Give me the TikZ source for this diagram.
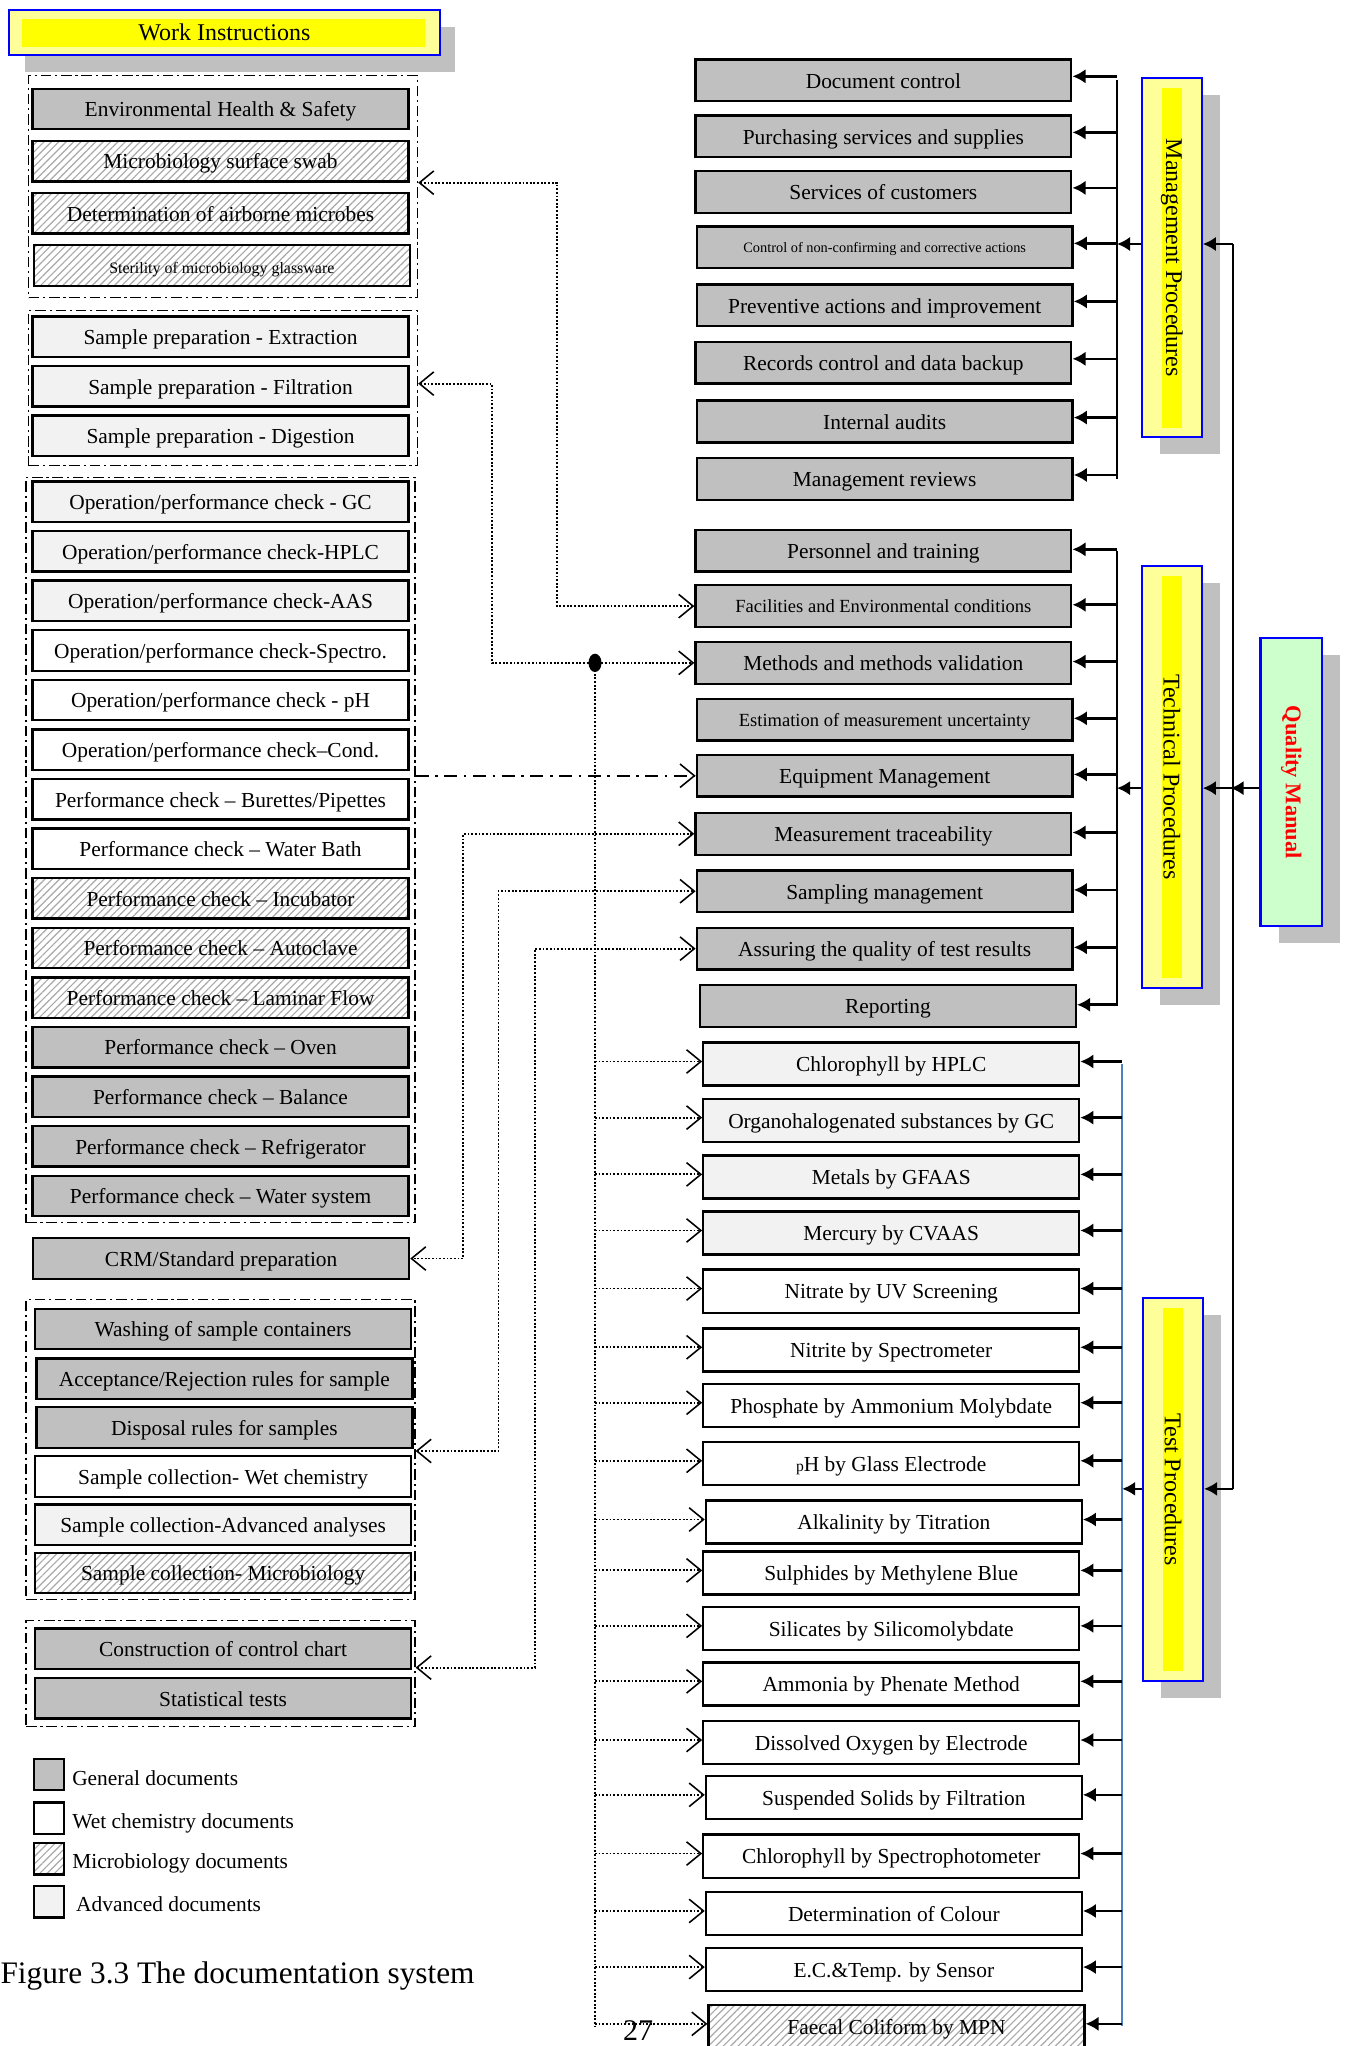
\documentclass[tikz,border=0pt]{standalone}
\usepackage{fontspec}
\setmainfont{Liberation Serif}
\usetikzlibrary{arrows.meta,patterns.meta,shapes.geometric,shadows,calc}
\definecolor{silv}{HTML}{C0C0C0}
\definecolor{advg}{HTML}{F2F2F2}
\definecolor{lyel}{HTML}{FFFF99}
\definecolor{yel}{HTML}{FFFF00}
\definecolor{pblue}{HTML}{0000FF}
\definecolor{qmg}{HTML}{CCFFCC}
\definecolor{qmr}{HTML}{FF0000}
\definecolor{bbus}{HTML}{4F81BD}
\definecolor{hatchc}{HTML}{A8A8A8}
\newcommand\bxf{\fontsize{8.2}{9}\selectfont}
\newcommand\smf{\fontsize{7.1}{8}\selectfont}
\newcommand\tnf{\fontsize{6.1}{7}\selectfont}
\newcommand\ctf{\fontsize{5.5}{6}\selectfont}
\newcommand\prf{\fontsize{9.2}{10}\selectfont}
\newcommand\qmf{\bfseries\fontsize{8.6}{10}\selectfont}
\newcommand\capf{\fontsize{12}{14}\selectfont}
\newcommand\pgf{\fontsize{11.5}{13}\selectfont}
\tikzset{
 docbox/.style={draw=black, line width=0.9pt, minimum width=144pt, minimum height=15.5pt, inner sep=0pt, font=\bxf, text height=6pt, text depth=0pt},
 gen/.style={docbox, fill=silv},
 wet/.style={docbox, fill=white},
 adv/.style={docbox, fill=advg},
 mic/.style={docbox, preaction={fill=white}, pattern={Lines[angle=45,distance=2pt,line width=0.45pt]}, pattern color=hatchc},
 rbox/.style={minimum height=16pt},
 tbox/.style={minimum height=16.5pt},
 grp/.style={draw=black, line width=0.5pt, dash pattern=on 4pt off 1.5pt on 0.8pt off 1.5pt, inner sep=0pt, minimum width=149pt},
 procbox/.style={draw=pblue, line width=0.8pt, fill=lyel, minimum width=23pt, inner sep=0pt,
   general shadow={fill=silv, shadow xshift=7pt, shadow yshift=-6.5pt}},
 solarr/.style={line width=1pt, -{Latex[length=5pt,width=5.5pt]}},
 busl/.style={line width=0.6pt},
 dotc/.style={line width=0.7pt, dash pattern=on 0.7pt off 0.7pt},
 barbhead/.tip={Straight Barb[length=5.5pt,width=9pt,line width=0.6pt]},
 dashdotc/.style={line width=0.7pt, dash pattern=on 5pt off 2.5pt on 1pt off 2.5pt},
 legbox/.style={minimum width=11.5pt, minimum height=12pt},
 legtxt/.style={anchor=west, inner sep=0pt, font=\bxf}
}
\begin{document}
\begin{tikzpicture}[x=0.5pt,y=-0.5pt]
\useasboundingbox[fill=white] (0,0) rectangle (1032,1568);

% ---------- Work Instructions ----------
\node[draw=pblue, line width=0.8pt, fill=lyel, minimum width=165pt, minimum height=17pt, inner sep=0pt,
  general shadow={fill=silv, shadow xshift=6pt, shadow yshift=-6.5pt}] (wi) at (172,25) {};
\fill[yel] ([xshift=5.5pt,yshift=-3.5pt]wi.north west) rectangle ([xshift=-6pt,yshift=3.5pt]wi.south east);
\node[font=\prf] (wit) at (wi.center) {Work Instructions};

% ---------- group frames ----------
\node[grp, minimum height=85pt] (g1) at (171,143) {};
\node[grp, minimum height=59.5pt] (g2) at (171,297.5) {};
\node[grp, minimum height=285.5pt] (g3) at (169,651.5) {};
\node[grp, minimum height=115pt] (g4) at (169,1111) {};
\node[grp, minimum height=40.5pt] (g5) at (169,1282.5) {};

% ---------- left column ----------
\node[gen] (ehs) at (169,83.5) {Environmental Health \& Safety};
\node[mic] (swab) at (169,123.5) {Microbiology surface swab};
\node[mic] (air) at (169,163.5) {Determination of airborne microbes};
\node[mic, font=\tnf] (ster) at (170,203.5) {Sterility of microbiology glassware};

\node[adv] (ext) at (169,258) {Sample preparation - Extraction};
\node[adv] (filt) at (169,296) {Sample preparation - Filtration};
\node[adv] (dig) at (169,334) {Sample preparation - Digestion};

\node[adv] (gc) at (169,384.5) {Operation/performance check - GC};
\node[adv] (hplcc) at (169,422.5) {Operation/performance check-HPLC};
\node[adv] (aas) at (169,460.5) {Operation/performance check-AAS};
\node[wet] (spec) at (169,498.5) {Operation/performance check-Spectro.};
\node[wet] (phc) at (169,536.5) {Operation/performance check - pH};
\node[wet] (cond) at (169,574.5) {Operation/performance check--Cond.};
\node[wet] (bur) at (169,612.5) {Performance check -- Burettes/Pipettes};
\node[wet] (wb) at (169,650.5) {Performance check -- Water Bath};
\node[mic] (inc) at (169,688.5) {Performance check -- Incubator};
\node[mic] (auto) at (169,726.5) {Performance check -- Autoclave};
\node[mic] (lam) at (169,764.5) {Performance check -- Laminar Flow};
\node[gen] (oven) at (169,802.5) {Performance check -- Oven};
\node[gen] (bal) at (169,840.5) {Performance check -- Balance};
\node[gen] (fri) at (169,878.5) {Performance check -- Refrigerator};
\node[gen] (wsys) at (169,916.5) {Performance check -- Water system};

\node[gen] (crm) at (169.5,964.5) {CRM/Standard preparation};

\node[gen] (wash) at (171,1018.5) {Washing of sample containers};
\node[gen] (acc) at (172,1056.5) {Acceptance/Rejection rules for sample};
\node[gen] (disp) at (172,1094) {Disposal rules for samples};
\node[wet] (scw) at (171,1131.5) {Sample collection- Wet chemistry};
\node[adv] (sca) at (171,1168.5) {Sample collection-Advanced analyses};
\node[mic] (scm) at (171,1205.5) {Sample collection- Microbiology};

\node[gen] (cc) at (171,1263.5) {Construction of control chart};
\node[gen] (st) at (171,1301.5) {Statistical tests};

% ---------- legend ----------
\node[gen, legbox] (lg1) at (37.5,1360) {};
\node[wet, legbox] (lg2) at (37.5,1393.5) {};
\node[mic, legbox] (lg3) at (37.5,1424.5) {};
\node[adv, legbox] (lg4) at (37.5,1457.5) {};
\node[legtxt] (lt1) at (55,1363) {General documents};
\node[legtxt] (lt2) at (55,1397) {Wet chemistry documents};
\node[legtxt] (lt3) at (55,1428) {Microbiology documents};
\node[legtxt] (lt4) at (58,1459) {Advanced documents};

\node[anchor=west, inner sep=0pt, font=\capf] (cap) at (0,1514) {Figure 3.3 The documentation system};
\node[anchor=south, inner sep=0pt, font=\pgf] (pg) at (489,1564) {27};

% ---------- management column ----------
\node[gen, rbox] (doc) at (677,61.5) {Document control};
\node[gen, rbox] (pur) at (677,104.5) {Purchasing services and supplies};
\node[gen, rbox] (serv) at (677,147) {Services of customers};
\node[gen, rbox, font=\ctf, text height=4pt] (ctrl) at (678,189.5) {Control of non-confirming and corrective actions};
\node[gen, rbox] (prev) at (678,234) {Preventive actions and improvement};
\node[gen, rbox] (rec) at (677,278) {Records control and data backup};
\node[gen, rbox] (aud) at (678,323) {Internal audits};
\node[gen, rbox] (rev) at (678,367) {Management reviews};

% ---------- technical column ----------
\node[gen, rbox] (pers) at (677,422) {Personnel and training};
\node[gen, rbox, font=\smf, text height=5pt] (fac) at (677,464.5) {Facilities and Environmental conditions};
\node[gen, rbox] (meth) at (677,508) {Methods and methods validation};
\node[gen, rbox, font=\smf, text height=5pt] (est) at (678,551.5) {Estimation of measurement uncertainty};
\node[gen, rbox] (equip) at (678,594.5) {Equipment Management};
\node[gen, rbox] (trace) at (677,639) {Measurement traceability};
\node[gen, rbox] (samp) at (678,683) {Sampling management};
\node[gen, rbox] (assur) at (678,727) {Assuring the quality of test results};
\node[gen, rbox] (rep) at (680.5,771) {Reporting};

% ---------- test column ----------
\node[adv, tbox] (hplc) at (683,815.5) {Chlorophyll by HPLC};
\node[adv, tbox] (org) at (683,858.5) {Organohalogenated substances by GC};
\node[adv, tbox] (met) at (683,902) {Metals by GFAAS};
\node[adv, tbox] (merc) at (683,945) {Mercury by CVAAS};
\node[wet, tbox] (nitra) at (683,989.5) {Nitrate by UV Screening};
\node[wet, tbox] (nitri) at (683,1034.5) {Nitrite by Spectrometer};
\node[wet, tbox] (phos) at (683,1077) {Phosphate by Ammonium Molybdate};
\node[wet, tbox] (ph) at (683,1121.5) {{\fontsize{6}{7}\selectfont p}H by Glass Electrode};
\node[wet, tbox] (alk) at (685,1166.5) {Alkalinity by Titration};
\node[wet, tbox] (sulph) at (683,1205.5) {Sulphides by Methylene Blue};
\node[wet, tbox] (sil) at (683,1248) {Silicates by Silicomolybdate};
\node[wet, tbox] (amm) at (683,1290.5) {Ammonia by Phenate Method};
\node[wet, tbox] (dox) at (683,1335.5) {Dissolved Oxygen by Electrode};
\node[wet, tbox] (ss) at (685,1377.5) {Suspended Solids by Filtration};
\node[wet, tbox] (chls) at (683,1422.5) {Chlorophyll by Spectrophotometer};
\node[wet, tbox] (col) at (685,1466.5) {Determination of Colour};
\node[wet, tbox] (ec) at (685,1509.5) {E.C.\&Temp. by Sensor};
\node[mic, tbox] (fc) at (687,1553) {Faecal Coliform by MPN};

% ---------- procedure boxes ----------
\node[procbox, minimum height=137.5pt] (mp) at (898,197.5) {};
\fill[yel] ([xshift=8pt,yshift=-4pt]mp.north west) rectangle ([xshift=-8pt,yshift=4pt]mp.south east);
\node[rotate=-90, font=\prf] (mpt) at (mp.center) {Management Procedures};

\node[procbox, minimum height=161.5pt] (tp) at (898,595.5) {};
\fill[yel] ([xshift=8pt,yshift=-4pt]tp.north west) rectangle ([xshift=-8pt,yshift=4pt]tp.south east);
\node[rotate=-90, font=\prf] (tpt) at (tp.center) {Technical Procedures};

\node[procbox, minimum height=146.5pt] (sp) at (899,1141.5) {};
\fill[yel] ([xshift=8pt,yshift=-4pt]sp.north west) rectangle ([xshift=-8pt,yshift=4pt]sp.south east);
\node[rotate=-90, font=\prf] (spt) at (sp.center) {Test Procedures};

\node[procbox, fill=qmg, minimum width=23.5pt, minimum height=110.5pt] (qm) at (989.5,599.5) {};
\node[rotate=-90, font=\qmf, text=qmr] (qmt) at (qm.center) {Quality Manual};

% ---------- solid connectors (right) ----------
\coordinate (mbus) at (856,0);
\coordinate (tbus) at (856,0);
\coordinate (sbus) at (860,0);
\coordinate (mpa) at (945,187);
\coordinate (tpa) at (945,604);
\coordinate (spa) at (945,1141);

\draw[busl] (mbus |- doc.east) -- (mbus |- rev.east);
\foreach \n in {doc,pur,serv,ctrl,prev,rec,aud,rev}
  \draw[solarr] ([yshift=1.5pt]mbus |- \n.east) -- ([yshift=1.5pt]\n.east);
\draw[solarr] (mp.west |- mpa) -- (mbus |- mpa);

\draw[busl] (tbus |- pers.east) -- (tbus |- rep.east);
\foreach \n in {pers,fac,meth,est,equip,trace,samp,assur,rep}
  \draw[solarr] ([yshift=0.5pt]tbus |- \n.east) -- ([yshift=0.5pt]\n.east);
\draw[solarr] (tp.west |- tpa) -- (tbus |- tpa);

\draw[busl, draw=bbus] (sbus |- hplc.east) -- (sbus |- fc.east);
\foreach \n in {hplc,org,met,merc,nitra,nitri,phos,ph,alk,sulph,sil,amm,dox,ss,chls,col,ec,fc}
  \draw[solarr] ([yshift=1pt]sbus |- \n.east) -- ([yshift=1pt]\n.east);
\draw[solarr] (sp.west |- spa) -- (sbus |- spa);

\draw[busl, line width=0.8pt] (mpa) -- (spa);
\draw[solarr] (mpa) -- (mp.east |- mpa);
\draw[solarr] (spa) -- (sp.east |- spa);
\draw[solarr] (qm.west |- tpa) -- ([xshift=-1pt]tpa);
\draw[solarr] (tpa) -- (tp.east |- tpa);

% ---------- dotted connectors (left) ----------
\coordinate (c1) at (427,140);
\coordinate (c2) at (377,294);
\coordinate (c4) at (355,964.5);
\coordinate (c5) at (382,1112);
\coordinate (c6) at (410,1278);

\draw[dotc, barbhead-barbhead] (g1.east |- c1) -- (c1) |- (fac.west);
\draw[dotc, barbhead-barbhead] (g2.east |- c2) -- (c2) |- (meth.west);
\draw[dashdotc, -barbhead] (g3.east |- equip.west) -- (equip.west);
\draw[dotc, barbhead-barbhead] (trace.west) -| (c4) -- (crm.east);
\draw[dotc, barbhead-barbhead] (g4.east |- c5) -- (c5) |- (samp.west);
\draw[dotc, barbhead-barbhead] (g5.east |- c6) -- (c6) |- (assur.west);

\node[ellipse, fill=black, minimum width=5pt, minimum height=7pt, inner sep=0pt] (hub) at (456,508) {};
\draw[dotc] (hub.center) -- (hub |- fc.west);
\foreach \n in {hplc,org,met,merc,nitra,nitri,phos,ph,alk,sulph,sil,amm,dox,ss,chls,col,ec,fc}
  \draw[dotc, -barbhead] ([yshift=1pt]hub |- \n.west) -- ([yshift=1pt]\n.west);
\end{tikzpicture}
\end{document}
